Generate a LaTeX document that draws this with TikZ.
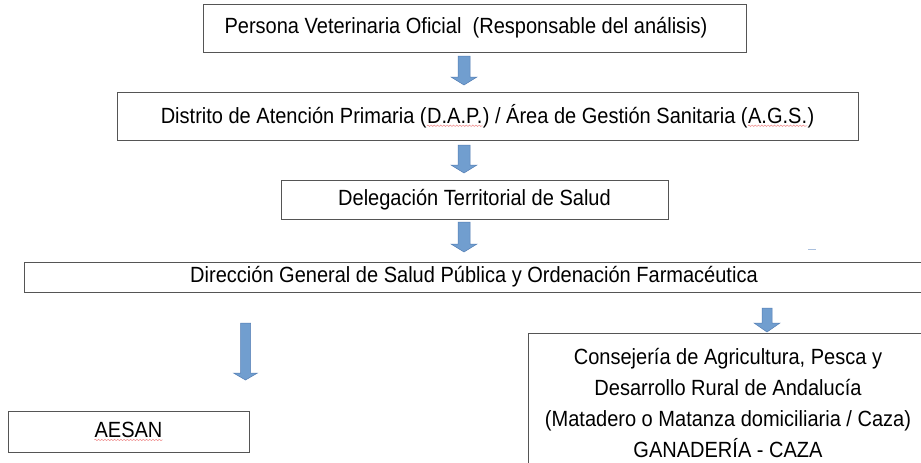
\documentclass[tikz,border=0pt]{standalone}
\usepackage{fontspec}
\setmainfont[FakeStretch=0.91]{Liberation Sans}
\usetikzlibrary{decorations.pathmorphing}
\definecolor{boxgray}{RGB}{85,85,85}
\definecolor{arrowfill}{RGB}{113,158,207}
\definecolor{arrowline}{RGB}{84,126,180}
\definecolor{dashblue}{RGB}{170,192,222}
\definecolor{squigred}{RGB}{240,140,140}
\tikzset{
  box/.style={draw=boxgray, line width=0.8pt, inner sep=0pt, align=center,
    font=\fontsize{22}{30.7}\selectfont},
  blockarrow/.style={fill=arrowfill, draw=arrowline, line width=0.5pt, line join=miter},
  squiggle/.style={draw=squigred, line width=0.5pt,
    decorate, decoration={snake, segment length=3.2pt, amplitude=0.7pt}}
}
\newcommand\squig[1]{\tikz[baseline=(w.base)]{\node[inner sep=0pt, draw=none, minimum width=0pt, minimum height=0pt](w){#1};\draw[squiggle] ([yshift=-2.5pt]w.base west)--([yshift=-2.5pt]w.base east);}}
% #1 top-centre coordinate, #2 shaft half width, #3 head half width, #4 shaft length, #5 head length
\newcommand\blkarrow[5]{\draw[blockarrow] (#1) ++(-#2,0) -- ++({2*#2},0) -- ++(0,#4) -- ++({#3-#2},0) -- ++({-#3},#5) -- ++({-#3},{-#5}) -- ++({#3-#2},0) -- cycle;}
\begin{document}
\begin{tikzpicture}[x=1pt,y=-1pt]
\useasboundingbox (0,0) rectangle (921,463);
\clip (0,0) rectangle (921,463);
\fill[white] (0,0) rectangle (921,463);

\node[box, minimum width=543pt, minimum height=48pt] (b1) at (474.5,28)
  {Persona Veterinaria Oficial \ (Responsable del análisis)\hspace*{17pt}};
\node[box, minimum width=741pt, minimum height=48pt] (b2) at (487.5,116)
  {Distrito de Atención Primaria (\squig{D.A.P.}) / Área de Gestión Sanitaria (\squig{A.G.S.})};
\node[box, minimum width=387pt, minimum height=39pt] (b3) at (474.5,199.5)
  {Delegación Territorial de Salud};
\node[box, minimum width=900pt, minimum height=30pt] (b4) at (474,277)
  {Dirección General de Salud Pública y Ordenación Farmacéutica};
\node[box, minimum width=241pt, minimum height=41pt] (b5) at (128.5,431.5)
  {\squig{AESAN}};
\node[box, minimum width=400pt, minimum height=140pt] (b6) at (728,403)
  {Consejería de Agricultura, Pesca y\\Desarrollo Rural de Andalucía\\(Matadero o Matanza domiciliaria / Caza)\\GANADERÍA - CAZA};

\coordinate (a1) at (464,56);
\coordinate (a2) at (464,145);
\coordinate (a3) at (464,222);
\coordinate (a4) at (245.5,323);
\coordinate (a5) at (767,308);
\blkarrow{a1}{6}{13}{21}{8}
\blkarrow{a2}{6}{13}{20}{8}
\blkarrow{a3}{6}{13}{22}{8}
\blkarrow{a4}{5}{12}{50}{7}
\blkarrow{a5}{5}{13}{15}{9}

\coordinate (d1) at (808,249.5);
\coordinate (d2) at (816,249.5);
\draw[dashblue, line width=1.2pt] (d1) -- (d2);
\end{tikzpicture}
\end{document}
